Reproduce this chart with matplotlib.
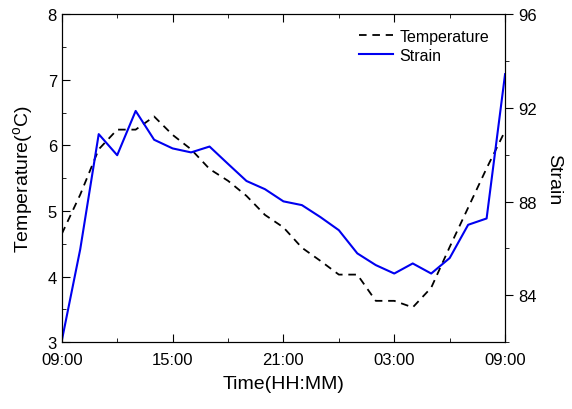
import matplotlib
matplotlib.use('Agg')
import matplotlib.pyplot as plt
from matplotlib.ticker import MultipleLocator, FixedLocator

plt.rcParams['font.family'] = ['Liberation Sans', 'DejaVu Sans']

# hours elapsed since 09:00
hours = [0, 1, 2, 3, 4, 5, 6, 7, 8, 9, 10, 11, 12,
         13, 14, 15, 16, 17, 18, 19, 20, 21, 22, 23, 24]
temperature = [4.65, 5.25, 5.94, 6.24, 6.24, 6.44, 6.16, 5.94, 5.64, 5.46, 5.23, 4.94, 4.75,
               4.44, 4.24, 4.03, 4.03, 3.63, 3.63, 3.53, 3.83, 4.45, 5.05, 5.65, 6.22]
strain = [82.06, 85.97, 90.88, 89.98, 91.87, 90.64, 90.27, 90.10, 90.35, 89.61, 88.88, 88.53, 88.01,
          87.85, 87.34, 86.78, 85.79, 85.29, 84.93, 85.36, 84.93, 85.59, 87.01, 87.28, 93.44]
tick_hours = [0, 6, 12, 18, 24]
tick_labels = ["09:00", "15:00", "21:00", "03:00", "09:00"]

fig = plt.figure(figsize=(5.72, 4.10), dpi=100)
ax = fig.add_axes([0.108, 0.163, 0.775, 0.8])
ax2 = ax.twinx()

l1, = ax.plot(hours, temperature, color="black", lw=1.3, dashes=(4.2, 3.2), label="Temperature")
l2, = ax2.plot(hours, strain, color="#0000f0", lw=1.5, label="Strain")

ax.set_xlim(0, 24)
ax.set_ylim(3, 8)
ax2.set_ylim(82, 96)

ax.xaxis.set_major_locator(FixedLocator(tick_hours))
ax.set_xticklabels(tick_labels)
ax.xaxis.set_minor_locator(MultipleLocator(3))
ax.yaxis.set_major_locator(MultipleLocator(1))
ax.yaxis.set_minor_locator(MultipleLocator(0.5))
ax2.yaxis.set_major_locator(MultipleLocator(4))
ax2.yaxis.set_minor_locator(MultipleLocator(2))

ax.tick_params(axis="x", which="both", direction="in", top=True, labelsize=12, pad=7)
ax.tick_params(axis="y", which="both", direction="in", labelsize=12)
ax.tick_params(which="major", length=6)
ax.tick_params(which="minor", length=3)
ax2.tick_params(axis="y", which="both", direction="out", labelsize=12)
ax2.tick_params(which="major", length=6)
ax2.tick_params(which="minor", length=3)

ax.set_xlabel("Time(HH:MM)", fontsize=14, labelpad=6)
ax.set_ylabel("Temperature($\\mathregular{^{o}}$C)", fontsize=14, labelpad=9)
ax2.set_ylabel("Strain", fontsize=14, rotation=270, labelpad=18)

ax2.legend([l1, l2], ["Temperature", "Strain"], loc="upper right", frameon=False,
           fontsize=11.5, handlelength=2.1, handletextpad=0.45, labelspacing=0.25,
           borderaxespad=0.3, bbox_to_anchor=(0.99, 0.99))

fig.savefig("out.png", dpi=100)
